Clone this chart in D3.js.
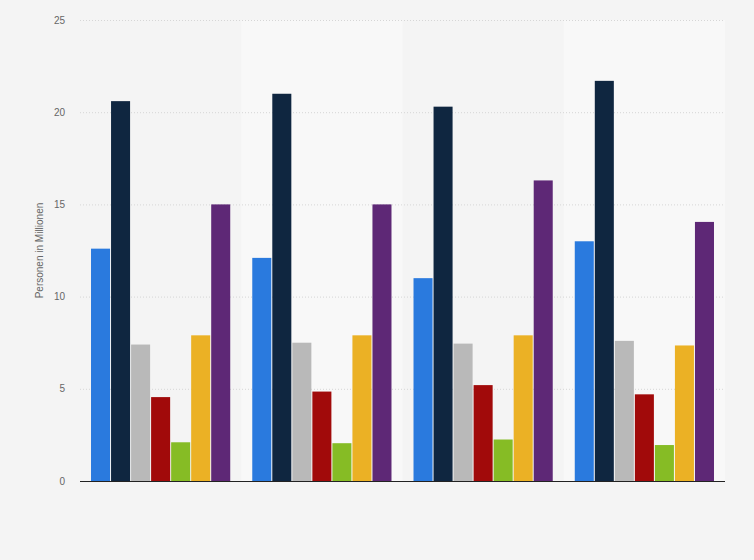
<!DOCTYPE html>
<html><head><meta charset="utf-8">
<script src="https://cdn.jsdelivr.net/npm/d3@7"></script>
<style>body{margin:0;background:#f4f4f4;font-family:"Liberation Sans",Arial,sans-serif;}</style>
</head><body><div id="chart"></div>
<script>
const groups = ["G1", "G2", "G3", "G4"];
const seriesNames = ["s1", "s2", "s3", "s4", "s5", "s6", "s7"];
const colors = ["#2a7ade", "#0f2640", "#b9b9b9", "#a10a0a", "#86bc25", "#ebb125", "#5e2876"];
const values = [
    [12.6, 20.6, 7.4, 4.55, 2.1, 7.9, 15.0],
    [12.1, 21.0, 7.5, 4.85, 2.05, 7.9, 15.0],
    [11.0, 20.3, 7.45, 5.2, 2.25, 7.9, 16.3],
    [13.0, 21.7, 7.6, 4.7, 1.95, 7.35, 14.05]
];
const yTicks = [0, 5, 10, 15, 20, 25];

const width = 754, height = 560;
const marginLeft = 80, marginRight = 29, marginTop = 20, marginBottom = 79;

const svg = d3.select("#chart").append("svg")
    .attr("width", width).attr("height", height);
svg.append("rect").attr("width", width).attr("height", height).attr("fill", "#f4f4f4");

const x0 = d3.scaleBand().domain(groups).range([marginLeft, width - marginRight]);
const x1 = d3.scaleBand().domain(seriesNames).range([0, x0.bandwidth()])
    .paddingInner(0.05).paddingOuter(0.55);
const y = d3.scaleLinear().domain([0, 25]).range([height - marginBottom, marginTop]);

// alternating bands
svg.append("g").selectAll("rect")
    .data(groups.filter((d, i) => i % 2 === 1))
    .join("rect")
    .attr("x", d => x0(d)).attr("width", x0.bandwidth())
    .attr("y", marginTop).attr("height", y(0) - marginTop)
    .attr("fill", "#f8f8f8");

// grid
svg.append("g").selectAll("line")
    .data(yTicks.filter(d => d > 0))
    .join("line")
    .attr("x1", marginLeft).attr("x2", width - marginRight)
    .attr("y1", d => y(d) + 0.5).attr("y2", d => y(d) + 0.5)
    .attr("stroke", "#d6d6d6").attr("stroke-dasharray", "1,2");

svg.append("g").selectAll("text")
    .data(yTicks)
    .join("text")
    .attr("x", 65).attr("y", d => y(d) + 3.5)
    .attr("text-anchor", "end")
    .attr("font-size", 10).attr("fill", "#666")
    .text(d => d);

svg.append("text")
    .attr("transform", `translate(43,${(y(0) + y(25)) / 2}) rotate(-90)`)
    .attr("text-anchor", "middle")
    .attr("font-size", 10).attr("fill", "#666")
    .text("Personen in Millionen");

svg.append("g").selectAll("g")
    .data(values)
    .join("g")
    .attr("transform", (d, i) => `translate(${x0(groups[i])},0)`)
    .selectAll("rect")
    .data(d => d.map((v, j) => ({k: seriesNames[j], v, c: colors[j]})))
    .join("rect")
    .attr("x", d => x1(d.k)).attr("width", x1.bandwidth())
    .attr("y", d => y(d.v)).attr("height", d => y(0) - y(d.v))
    .attr("fill", d => d.c);

svg.append("line")
    .attr("x1", marginLeft).attr("x2", width - marginRight)
    .attr("y1", y(0) + 0.5).attr("y2", y(0) + 0.5)
    .attr("stroke", "#222").attr("stroke-width", 1);
</script></body></html>
